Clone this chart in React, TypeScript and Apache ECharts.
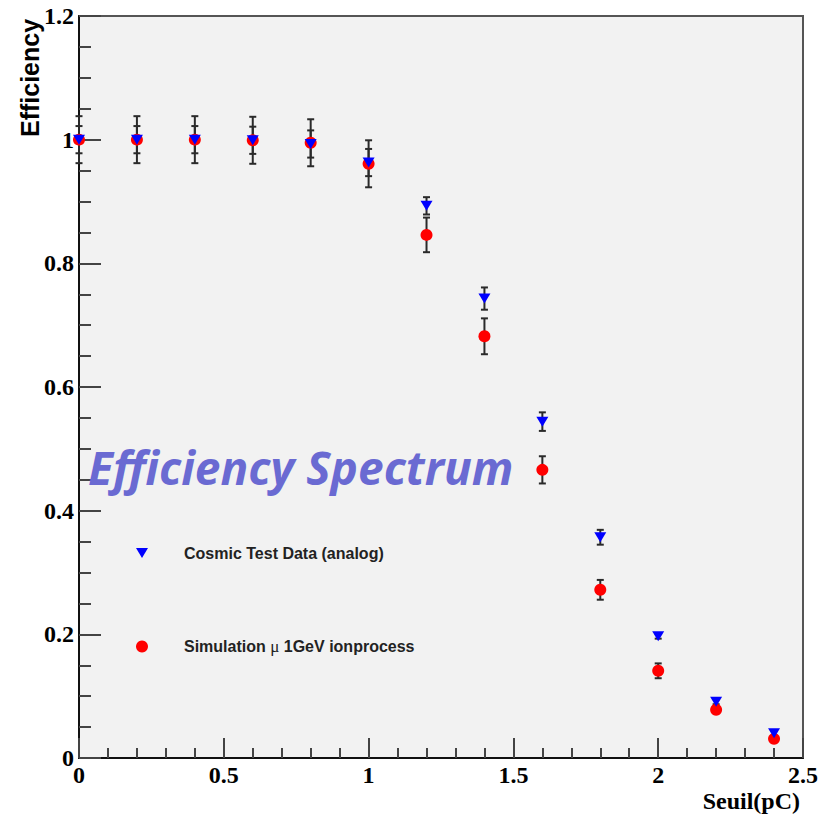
import React, { useEffect, useRef } from "react";
import * as echarts from "echarts";

const xValues = [0, 0.2, 0.4, 0.6, 0.8, 1.0, 1.2, 1.4, 1.6, 1.8, 2.0, 2.2, 2.4];
const cosmicValues = [1.0, 1.0, 1.0, 0.999, 0.993, 0.963, 0.893, 0.743, 0.544, 0.357, 0.197, 0.091, 0.04];
const cosmicErrors = [0.022, 0.022, 0.022, 0.022, 0.022, 0.022, 0.014, 0.018, 0.015, 0.012, 0.004, 0.004, 0.004];
const simValues = [1.0, 1.0, 1.0, 0.999, 0.995, 0.961, 0.846, 0.682, 0.466, 0.272, 0.141, 0.078, 0.031];
const simErrors = [0.038, 0.038, 0.038, 0.038, 0.038, 0.038, 0.028, 0.029, 0.022, 0.016, 0.012, 0.005, 0.004];

const cosmicName = "Cosmic Test Data (analog)";
const simName = "Simulation μ 1GeV ionprocess";
const overlayTitle = "Efficiency Spectrum";
const xName = "Seuil(pC)";
const yName = "Efficiency";

function errorRenderer(params: any, api: any) {
  const x = api.value(0);
  const lo = api.value(1);
  const hi = api.value(2);
  const pHi = api.coord([x, hi]);
  const pLo = api.coord([x, lo]);
  const hw = 3.5;
  const st = { stroke: "#2a2a2a", lineWidth: 2 };
  return {
    type: "group",
    children: [
      { type: "line", shape: { x1: pHi[0], y1: pHi[1], x2: pLo[0], y2: pLo[1] }, style: st },
      { type: "line", shape: { x1: pHi[0] - hw, y1: pHi[1], x2: pHi[0] + hw, y2: pHi[1] }, style: st },
      { type: "line", shape: { x1: pLo[0] - hw, y1: pLo[1], x2: pLo[0] + hw, y2: pLo[1] }, style: st },
    ],
  };
}

export default function App() {
  const ref = useRef<HTMLDivElement>(null);
  useEffect(() => {
    if (!ref.current) return;
    const chart = echarts.init(ref.current, null, { renderer: "svg" });
    const serif = "'Liberation Serif', 'Times New Roman', serif";
    const sans = "'Liberation Sans', Arial, sans-serif";
    const simErrData = xValues.map((x, i) => [x, simValues[i] - simErrors[i], simValues[i] + simErrors[i]]);
    const cosErrData = xValues.map((x, i) => [x, cosmicValues[i] - cosmicErrors[i], cosmicValues[i] + cosmicErrors[i]]);
    const legendText = {
      fontFamily: sans,
      fontSize: 16,
      fontWeight: "bold" as const,
      color: "#222",
      padding: [0, 0, 0, 31],
      rich: { mu: { fontFamily: serif, fontSize: 17, fontWeight: "normal", color: "#222" } },
    };
    chart.setOption({
      animation: false,
      backgroundColor: "#ffffff",
      grid: {
        left: 79,
        top: 16,
        right: 26,
        bottom: 57,
        show: true,
        backgroundColor: "#f2f2f2",
        borderColor: "#555",
        borderWidth: 2,
      },
      xAxis: {
        type: "value",
        min: 0,
        max: 2.5,
        interval: 0.5,
        axisLine: { show: true, onZero: false, lineStyle: { color: "#111", width: 2 } },
        axisTick: { show: true, inside: true, length: 20, lineStyle: { color: "#444", width: 2 } },
        minorTick: { show: true, splitNumber: 5, length: 10, lineStyle: { color: "#444", width: 2 } },
        splitLine: { show: false },
        axisLabel: { fontFamily: serif, fontWeight: "bold", fontSize: 24, color: "#000", margin: 5 },
      },
      yAxis: {
        type: "value",
        min: 0,
        max: 1.2,
        interval: 0.2,
        axisLine: { show: true, onZero: false, lineStyle: { color: "#111", width: 2 } },
        axisTick: { show: true, inside: true, length: 22, lineStyle: { color: "#444", width: 2 } },
        minorTick: { show: true, splitNumber: 4, length: 12, lineStyle: { color: "#444", width: 2 } },
        splitLine: { show: false },
        axisLabel: { fontFamily: serif, fontWeight: "bold", fontSize: 24, color: "#000", margin: 5 },
      },
      legend: [
        {
          data: [{ name: cosmicName, icon: "path://M0,0L12,0L6,10Z" }],
          left: 136,
          top: 545,
          padding: 0,
          itemWidth: 12,
          itemHeight: 10,
          textStyle: legendText,
          selectedMode: false,
        },
        {
          data: [{ name: simName, icon: "circle" }],
          left: 136,
          top: 638,
          padding: 0,
          itemWidth: 12,
          itemHeight: 12,
          textStyle: legendText,
          selectedMode: false,
          formatter: (n: string) => n.replace("μ", "{mu|μ}"),
        },
      ],
      graphic: [
        {
          type: "text",
          x: 88,
          y: 467,
          style: {
            text: overlayTitle,
            fontFamily: "'Open Sans', Lato, sans-serif",
            fontStyle: "italic",
            fontWeight: "bold",
            fontSize: 46,
            fill: "#6a6ad2",
            align: "left",
            verticalAlign: "middle",
          },
          z: 10,
        },
        {
          type: "text",
          x: 800,
          y: 801,
          style: {
            text: xName,
            fontFamily: serif,
            fontWeight: "bold",
            fontSize: 24,
            fill: "#000",
            align: "right",
            verticalAlign: "middle",
          },
        },
        {
          type: "text",
          x: 30,
          y: 137,
          rotation: Math.PI / 2,
          style: {
            text: yName,
            fontFamily: sans,
            fontWeight: "bold",
            fontSize: 25,
            fill: "#000",
            align: "left",
            verticalAlign: "middle",
          },
        },
      ],
      series: [
        {
          type: "custom",
          name: "simErr",
          renderItem: errorRenderer,
          data: simErrData,
          encode: { x: 0, y: [1, 2] },
          z: 1,
          silent: true,
        },
        {
          type: "custom",
          name: "cosErr",
          renderItem: errorRenderer,
          data: cosErrData,
          encode: { x: 0, y: [1, 2] },
          z: 1,
          silent: true,
        },
        {
          type: "scatter",
          name: simName,
          data: xValues.map((x, i) => [x, simValues[i]]),
          symbol: "circle",
          symbolSize: 12,
          itemStyle: { color: "#ff0000", opacity: 1 },
          clip: false,
          z: 2,
        },
        {
          type: "scatter",
          name: cosmicName,
          data: xValues.map((x, i) => [x, cosmicValues[i]]),
          symbol: "triangle",
          symbolRotate: 180,
          symbolSize: [12, 10],
          itemStyle: { color: "#0000ff", opacity: 1 },
          clip: false,
          z: 3,
        },
      ],
    });
    return () => chart.dispose();
  }, []);
  return <div ref={ref} style={{ position: "fixed", left: 0, top: 0, width: 829, height: 815 }} />;
}
